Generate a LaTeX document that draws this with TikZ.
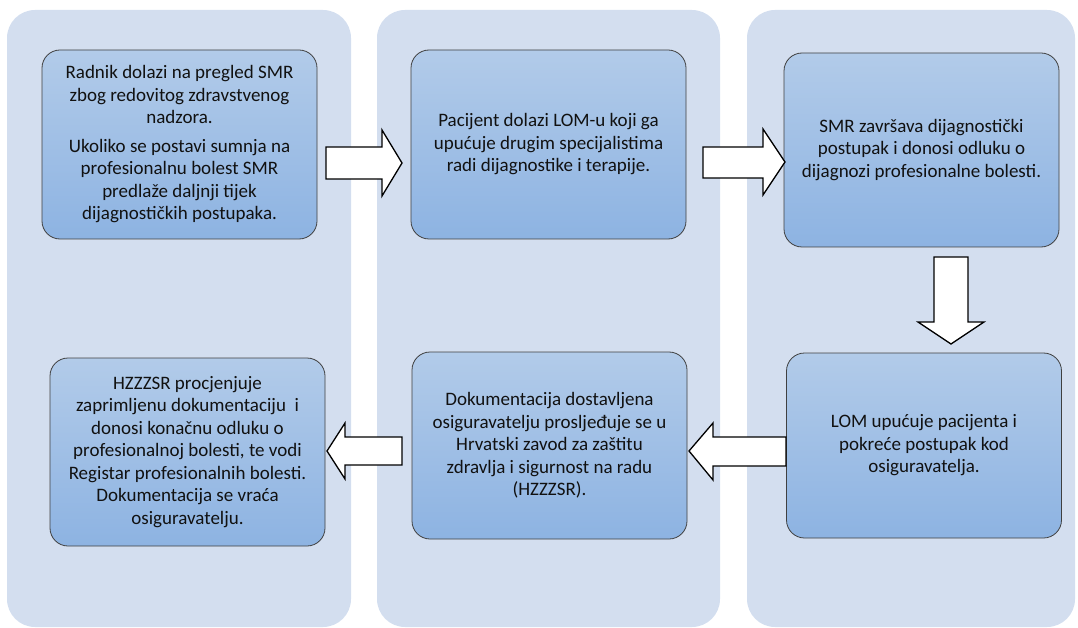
\documentclass[tikz,border=0pt]{standalone}
\usepackage{fontspec}
\setmainfont{Carlito}
\definecolor{panelc}{HTML}{D3DEEF}
\definecolor{boxtop}{HTML}{B2CBE9}
\definecolor{boxbot}{HTML}{8DB3E2}
\definecolor{boxline}{HTML}{404040}
\definecolor{textc}{HTML}{111111}
\begin{document}
\begin{tikzpicture}[x=1pt,y=-1pt,
  panel/.style={fill=panelc, draw=none, rounded corners=28pt},
  stepbox/.style={draw=boxline, line width=0.8pt, rounded corners=18pt,
    top color=boxtop, bottom color=boxbot, inner sep=0pt,
    minimum width=275pt, minimum height=189pt, align=center,
    font=\fontsize{19}{22.5}\selectfont, text=textc},
  barrow/.style={draw=black, fill=white, line width=1.3pt, line join=miter}]
\useasboundingbox (0,0) rectangle (1078,628);
% panels
\fill[panel] (7,10) rectangle (351,627);
\fill[panel] (377,10) rectangle (720,627);
\fill[panel] (747,10) rectangle (1075,627);
% boxes
\node[stepbox] (b1) at (179.5,144.5) {Radnik dolazi na pregled SMR\\zbog redovitog zdravstvenog\\nadzora.\\[6pt]Ukoliko se postavi sumnja na\\profesionalnu bolest SMR\\predlaže daljnji tijek\\dijagnostičkih postupaka.};
\node[stepbox] (b2) at (548.5,144.5) {Pacijent dolazi LOM-u koji ga\\upućuje drugim specijalistima\\radi dijagnostike i terapije.};
\node[stepbox, minimum height=194pt] (b3) at (921.5,150) {SMR završava dijagnostički\\postupak i donosi odluku o\\dijagnozi profesionalne bolesti.};
\node[stepbox, minimum height=185pt] (b4) at (924,445.5) {LOM upućuje pacijenta i\\pokreće postupak kod\\osiguravatelja.};
\node[stepbox, minimum height=187pt] (b5) at (549.5,445.5) {Dokumentacija dostavljena\\osiguravatelju prosljeđuje se u\\Hrvatski zavod za zaštitu\\zdravlja i sigurnost na radu\\(HZZZSR).};
\node[stepbox, minimum height=188pt] (b6) at (187.5,452) {HZZZSR procjenjuje\\zaprimljenu dokumentaciju~ i\\donosi konačnu odluku o\\profesionalnoj bolesti, te vodi\\Registar profesionalnih bolesti.\\Dokumentacija se vraća\\osiguravatelju.};
% block arrows
\draw[barrow] (326,147) -- (382,147) -- (382,130) -- (402,163) -- (382,196) -- (382,179) -- (326,179) -- cycle;
\draw[barrow] (703,147) -- (763,147) -- (763,129) -- (785,162) -- (763,195) -- (763,178) -- (703,178) -- cycle;
\draw[barrow] (934,257) -- (968,257) -- (968,322) -- (984,322) -- (951,344) -- (918,322) -- (934,322) -- cycle;
\draw[barrow] (786,437) -- (713,437) -- (713,423) -- (689,451) -- (713,480) -- (713,466) -- (786,466) -- cycle;
\draw[barrow] (402,437) -- (345,437) -- (345,423) -- (327,451) -- (345,479) -- (345,465) -- (402,465) -- cycle;
\end{tikzpicture}
\end{document}
